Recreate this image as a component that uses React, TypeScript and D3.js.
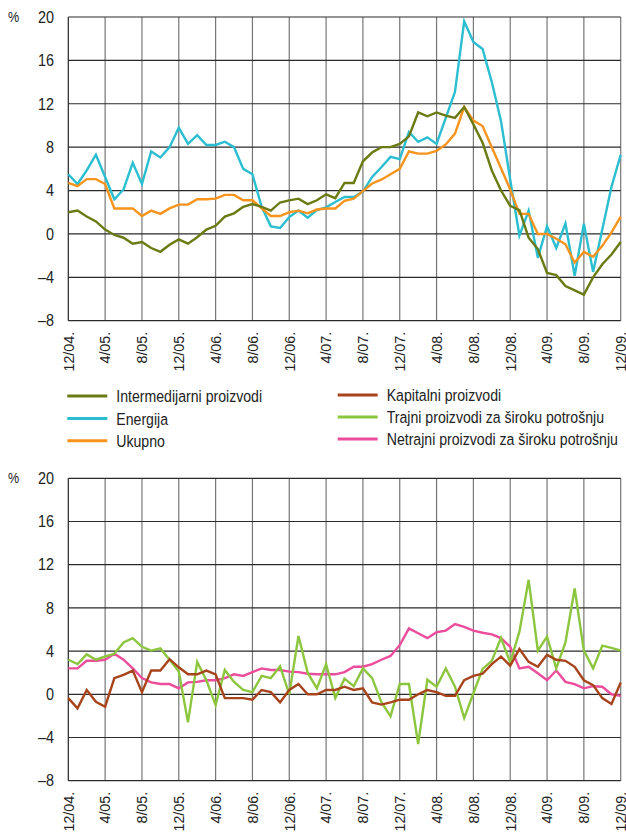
import { useEffect, useRef } from 'react';
import * as d3 from 'd3';

// monthly, 12/04 .. 12/09 (61 points)
const tickLabels = ['12/04.', '4/05.', '8/05.', '12/05.', '4/06.', '8/06.', '12/06.', '4/07.', '8/07.', '12/07.', '4/08.', '8/08.', '12/08.', '4/09.', '8/09.', '12/09.'];
const yTicks = [-8, -4, 0, 4, 8, 12, 16, 20];

const intermediate = [2.0, 2.15, 1.6, 1.15, 0.4, -0.1, -0.35, -0.9, -0.75, -1.3, -1.65, -1.0, -0.5, -0.9, -0.3, 0.4, 0.75, 1.6, 1.9, 2.5, 2.75, 2.5, 2.15, 2.9, 3.1, 3.25, 2.75, 3.1, 3.65, 3.3, 4.7, 4.7, 6.7, 7.5, 8.0, 8.0, 8.3, 9.0, 11.2, 10.85, 11.2, 10.9, 10.7, 11.7, 10.1, 8.4, 5.85, 4.0, 2.6, 2.2, -0.35, -1.4, -3.6, -3.8, -4.8, -5.2, -5.6, -4.0, -2.8, -1.9, -0.75];
const energy = [5.5, 4.6, 5.85, 7.3, 5.25, 3.2, 4.1, 6.55, 4.6, 7.6, 7.05, 8.0, 9.8, 8.3, 9.1, 8.2, 8.2, 8.5, 8.0, 6.0, 5.5, 2.5, 0.7, 0.55, 1.55, 2.15, 1.5, 2.2, 2.45, 2.95, 3.4, 3.4, 3.9, 5.25, 6.15, 7.1, 6.9, 9.4, 8.5, 8.9, 8.3, 10.7, 13.1, 19.6, 17.7, 17.05, 14.0, 10.4, 5.0, -0.15, 2.15, -2.2, 0.7, -1.3, 0.95, -3.85, 0.95, -3.5, 0.4, 4.35, 7.3];
const total = [4.7, 4.4, 5.05, 5.05, 4.6, 2.35, 2.35, 2.35, 1.65, 2.15, 1.85, 2.35, 2.7, 2.7, 3.2, 3.2, 3.25, 3.6, 3.6, 3.1, 3.1, 2.35, 1.65, 1.65, 2.0, 2.15, 1.9, 2.25, 2.35, 2.35, 3.05, 3.25, 3.95, 4.65, 5.0, 5.5, 6.0, 7.6, 7.4, 7.4, 7.65, 8.25, 9.25, 11.7, 10.45, 9.95, 8.0, 6.05, 4.1, 1.85, 1.85, 0, 0, -0.45, -0.95, -2.65, -1.65, -2.1, -1.1, 0.15, 1.6];

const capital = [-0.35, -1.3, 0.4, -0.7, -1.15, 1.5, 1.8, 2.2, 0.2, 2.2, 2.2, 3.25, 2.5, 1.85, 1.85, 2.2, 1.85, -0.35, -0.35, -0.35, -0.5, 0.4, 0.2, -0.75, 0.4, 0.95, 0, 0, 0.4, 0.4, 0.7, 0.4, 0.55, -0.75, -0.95, -0.75, -0.5, -0.5, 0, 0.4, 0.2, -0.15, -0.15, 1.3, 1.7, 1.9, 2.8, 3.5, 2.65, 4.2, 3.0, 2.55, 3.65, 3.2, 3.1, 2.55, 1.3, 0.85, -0.35, -0.9, 1.1];
const durable = [3.2, 2.8, 3.7, 3.2, 3.5, 3.75, 4.8, 5.2, 4.4, 4.05, 4.25, 3.2, 2.1, -2.6, 3.0, 1.3, -1.0, 2.25, 1.15, 0.4, 0.2, 1.7, 1.5, 2.6, 0, 5.4, 2.0, 0.55, 2.8, -0.35, 1.45, 0.75, 2.4, 1.5, -0.7, -2.05, 0.95, 0.95, -4.6, 1.35, 0.7, 2.4, 0.7, -2.2, 0.1, 2.35, 3.1, 5.2, 2.95, 5.8, 10.6, 4.05, 5.35, 2.4, 4.8, 9.8, 4.05, 2.4, 4.5, 4.3, 4.05];
const nondurable = [2.4, 2.4, 3.1, 3.1, 3.2, 3.75, 3.2, 2.4, 1.5, 1.1, 0.95, 0.95, 0.55, 1.1, 1.15, 1.3, 1.3, 1.5, 1.85, 1.7, 2.05, 2.4, 2.25, 2.25, 2.1, 2.05, 1.9, 1.85, 1.85, 1.85, 2.05, 2.55, 2.55, 2.8, 3.2, 3.55, 4.55, 6.1, 5.65, 5.2, 5.75, 5.9, 6.5, 6.25, 5.9, 5.7, 5.55, 5.2, 4.4, 2.4, 2.55, 1.95, 1.3, 2.2, 1.15, 0.95, 0.55, 0.75, 0.7, 0, -0.15];

const topSeries = [
  { label: 'Energija', values: energy, color: '#2bbdd0' },
  { label: 'Ukupno', values: total, color: '#f7941d' },
  { label: 'Intermedijarni proizvodi', values: intermediate, color: '#6b7a12' },
];
const bottomSeries = [
  { label: 'Netrajni proizvodi za široku potrošnju', values: nondurable, color: '#ec4c9c' },
  { label: 'Trajni proizvodi za široku potrošnju', values: durable, color: '#8cc63f' },
  { label: 'Kapitalni proizvodi', values: capital, color: '#a8441c' },
];
const legendLeft = [
  { label: 'Intermedijarni proizvodi', color: '#6b7a12' },
  { label: 'Energija', color: '#2bbdd0' },
  { label: 'Ukupno', color: '#f7941d' },
];
const legendRight = [
  { label: 'Kapitalni proizvodi', color: '#a8441c' },
  { label: 'Trajni proizvodi za široku potrošnju', color: '#8cc63f' },
  { label: 'Netrajni proizvodi za široku potrošnju', color: '#ec4c9c' },
];

// no condensed face installed, so regular Liberation Sans gets squeezed horizontally
const FONT = "'Liberation Sans', Arial, sans-serif";
const W = 626;
const H = 835;

const App = () => {
  const svgRef = useRef<SVGSVGElement | null>(null);

  useEffect(() => {
    const svg = d3.select(svgRef.current);
    svg.selectAll('*').remove();

    const x = d3.scaleLinear().domain([0, 60]).range([68.3, 620.7]);
    const fmt = (d: number) => (d < 0 ? `–${Math.abs(d)}` : `${d}`);

    const drawPanel = (top: number, bottom: number, series: typeof topSeries) => {
      const y = d3.scaleLinear().domain([-8, 20]).range([bottom, top]);
      const g = svg.append('g');

      // vertical grid
      g.selectAll('.vgrid')
        .data(tickLabels)
        .enter()
        .append('line')
        .attr('x1', (d, i) => x(i * 4))
        .attr('x2', (d, i) => x(i * 4))
        .attr('y1', y(20))
        .attr('y2', y(-8))
        .attr('stroke', (d, i) => (i === 0 ? '#222' : '#777'))
        .attr('stroke-width', 1.2);

      // horizontal grid
      g.selectAll('.hgrid')
        .data(yTicks)
        .enter()
        .append('line')
        .attr('x1', x(0))
        .attr('x2', x(60))
        .attr('y1', d => y(d))
        .attr('y2', d => y(d))
        .attr('stroke', '#2a2a2a')
        .attr('stroke-width', 1.2);

      // y labels
      g.selectAll('.ylab')
        .data(yTicks)
        .enter()
        .append('text')
        .attr('transform', d => `translate(54,${y(d)}) scale(0.9,1)`)
        .attr('dy', '0.36em')
        .attr('text-anchor', 'end')
        .style('font-family', FONT)
        .style('font-size', '16px')
        .style('fill', '#222')
        .text(d => fmt(d));

      g.append('text')
        .attr('transform', `translate(8,${y(20)}) scale(0.9,1)`)
        .attr('dy', '0.36em')
        .style('font-family', FONT)
        .style('font-size', '14px')
        .style('fill', '#222')
        .text('%');

      // x labels, rotated
      g.selectAll('.xlab')
        .data(tickLabels)
        .enter()
        .append('text')
        .attr('transform', (d, i) => `translate(${x(i * 4)},${bottom + 11}) rotate(-90) scale(0.97,1)`)
        .attr('dy', '0.36em')
        .attr('text-anchor', 'end')
        .style('font-family', FONT)
        .style('font-size', '14.8px')
        .style('fill', '#222')
        .text(d => d);

      const line = d3.line<number>()
        .x((d, i) => x(i))
        .y(d => y(d));

      g.selectAll('.series')
        .data(series)
        .enter()
        .append('path')
        .attr('d', d => line(d.values))
        .attr('fill', 'none')
        .attr('stroke', d => d.color)
        .attr('stroke-width', 2.4)
        .attr('stroke-linejoin', 'miter');
    };

    drawPanel(17, 320.7, topSeries);
    drawPanel(478.3, 780.7, bottomSeries);

    // legend
    const drawLegend = (items: typeof legendLeft, x0: number, rows: number[]) => {
      const lg = svg.append('g');
      const it = lg.selectAll('.item')
        .data(items)
        .enter()
        .append('g')
        .attr('transform', (d, i) => `translate(${x0},${rows[i]})`);
      it.append('line')
        .attr('x1', 0)
        .attr('x2', 40)
        .attr('stroke', d => d.color)
        .attr('stroke-width', 3);
      it.append('text')
        .attr('transform', 'translate(49,0) scale(0.83,1)')
        .attr('dy', '0.36em')
        .style('font-family', FONT)
        .style('font-size', '17px')
        .style('fill', '#222')
        .text(d => d.label);
    };
    drawLegend(legendLeft, 67.3, [396, 418.5, 440.7]);
    drawLegend(legendRight, 337.7, [395, 417, 439]);
  }, []);

  return (
    <svg
      ref={svgRef}
      width={W}
      height={H}
      style={{ position: 'absolute', left: 0, top: 0, background: '#fff' }}
    />
  );
};

export default App;
